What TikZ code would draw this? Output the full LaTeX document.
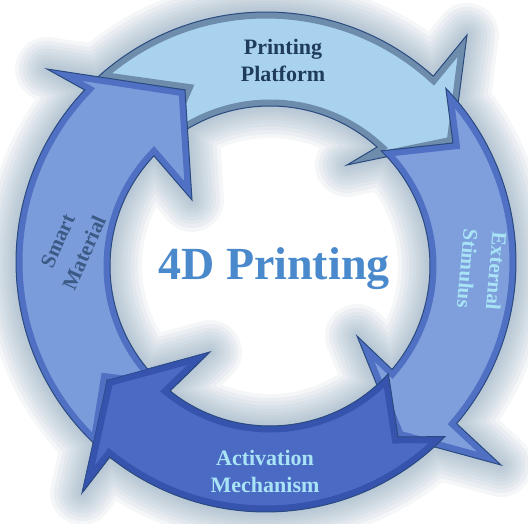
\documentclass[tikz,border=0pt]{standalone}
\usepackage{fontspec}
\setmainfont{Liberation Serif}
\definecolor{topface}{HTML}{A9D2EE}
\definecolor{topbev}{HTML}{6E8CAB}
\definecolor{smface}{HTML}{7B9CDA}
\definecolor{smbev}{HTML}{5070C4}
\definecolor{exface}{HTML}{7E9FDC}
\definecolor{acface}{HTML}{4A6AC4}
\definecolor{acbev}{HTML}{3654AE}
\definecolor{edgec}{HTML}{2B4A80}
\definecolor{glowc}{HTML}{98B0C4}
\definecolor{darktxt}{HTML}{1F3B5E}
\definecolor{smtxt}{HTML}{3B5A86}
\definecolor{lighttxt}{HTML}{A8E4F6}
\definecolor{maintxt}{HTML}{4A8ACC}
\tikzset{
  lbl/.style={align=center, font=\fontsize{22}{27}\selectfont\bfseries, inner sep=0pt},
  rlbl/.style={align=center, font=\fontsize{21}{29}\selectfont\bfseries, inner sep=0pt},
  outline/.style={draw=edgec, line width=1pt, line join=miter},
  glowline/.style={draw=glowc, opacity=0.1, line join=round},
}
\def\Ro{250}
\def\Ri{160}
\begin{document}
\begin{tikzpicture}[x=1pt,y=1pt]
\useasboundingbox (0,0) rectangle (528,524);
\fill[white] (0,0) rectangle (528,524);
\coordinate (Co) at (266,262);
\coordinate (Ci) at (270,258);
% heads: outer barb, tip, inner barb
\coordinate (sOB) at (47,455);  \coordinate (sT) at (185,434); \coordinate (sIB) at (192,324);
\coordinate (tOB) at (467,489); \coordinate (tT) at (453,381); \coordinate (tIB) at (347,359);
\coordinate (eOB) at (501,59);  \coordinate (eT) at (398,87);  \coordinate (eIB) at (357,188);
\coordinate (aOB) at (82,31);   \coordinate (aT) at (107,144); \coordinate (aIB) at (210,172);
\def\pTop{([shift={(Co)}]132.5:\Ro) arc[start angle=132.5, end angle=48, radius=\Ro] -- (tOB) -- (tT) -- (tIB) -- ([shift={(Ci)}]48:\Ri) arc[start angle=48, end angle=134.5, radius=\Ri] -- (sT) -- cycle}
\def\pExt{([shift={(Co)}]44:\Ro) arc[start angle=44, end angle=-40.3, radius=\Ro] -- (eOB) -- (eT) -- (eIB) -- ([shift={(Ci)}]-40.3:\Ri) arc[start angle=-40.3, end angle=46, radius=\Ri] -- (tT) -- cycle}
\def\pAct{([shift={(Co)}]-44.3:\Ro) arc[start angle=-44.3, end angle=-128.7, radius=\Ro] -- (aOB) -- (aT) -- (aIB) -- ([shift={(Ci)}]-128.7:\Ri) arc[start angle=-128.7, end angle=-42.3, radius=\Ri] -- (eT) -- cycle}
\def\pSm{([shift={(Co)}]227.3:\Ro) arc[start angle=227.3, end angle=136.5, radius=\Ro] -- (sOB) -- (sT) -- (sIB) -- ([shift={(Ci)}]136.5:\Ri) arc[start angle=136.5, end angle=229.3, radius=\Ri] -- (aT) -- cycle}
% glow
\foreach \w in {64,56,48,41,34,28,22,16,11,6} {
  \path[glowline, line width=\w pt] \pTop \pExt \pAct \pSm;
}
% shapes
\newcommand\drawshape[3]{%
  \fill[#2] #1;
  \begin{scope}\clip #1; \draw[#3, line width=13pt, line join=miter] #1; \end{scope}
  \draw[outline] #1;
}
\drawshape{\pTop}{topface}{topbev}
\drawshape{\pExt}{exface}{smbev}
\drawshape{\pAct}{acface}{acbev}
\drawshape{\pSm}{smface}{smbev}
% redraw activation head over smart tail
\begin{scope}
  \clip[scale around={1.05:(133,115.7)}] (aOB) -- (aT) -- (aIB) -- cycle;
  \drawshape{\pAct}{acface}{acbev}
\end{scope}
% labels
\node[lbl, text=darktxt] (lp) at (283,464) {Printing\\Platform};
\node[rlbl, text=smtxt, rotate=66] (lsm) at (71,277) {Smart\\Material};
\node[rlbl, text=lighttxt, rotate=-95] (lex) at (482,254) {External\\Stimulus};
\node[lbl, text=lighttxt] (lac) at (265,53) {Activation\\Mechanism};
\node[font=\fontsize{46}{50}\selectfont\bfseries, text=maintxt, anchor=base, inner sep=0pt] (main) at (274,244) {4D Printing};
\end{tikzpicture}
\end{document}
